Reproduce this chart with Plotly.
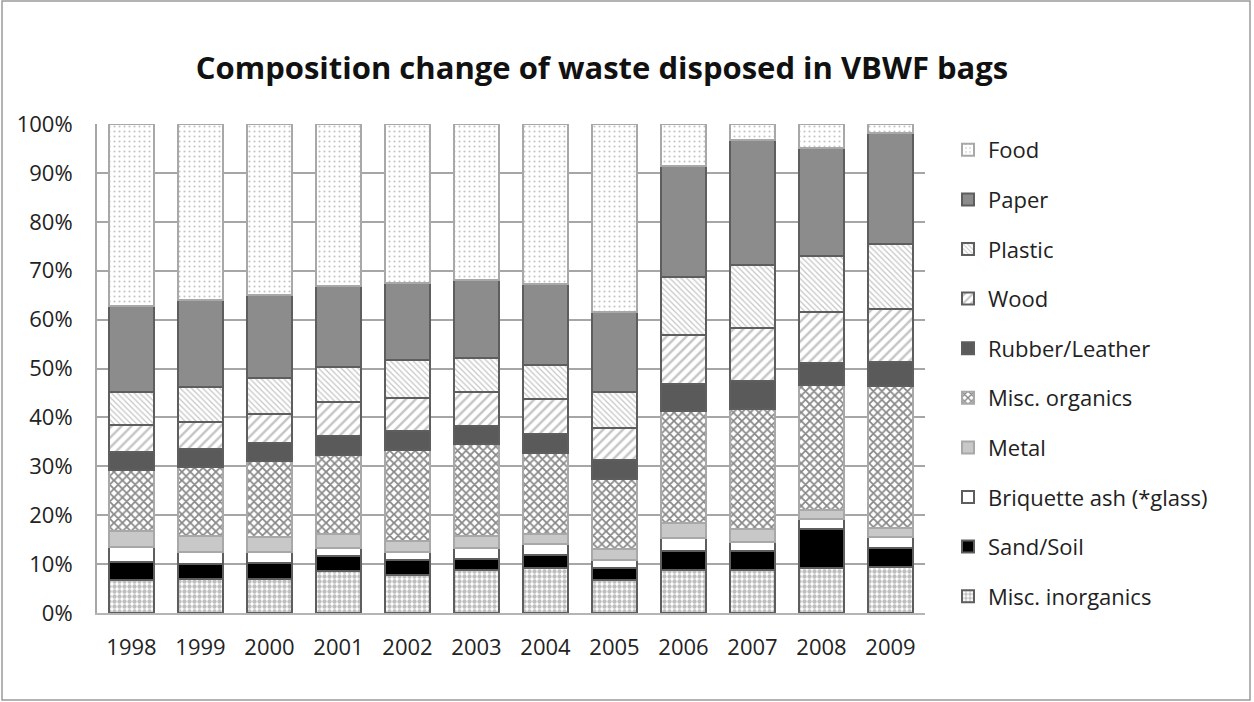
import plotly.graph_objects as go

years = ["1998", "1999", "2000", "2001", "2002", "2003",
         "2004", "2005", "2006", "2007", "2008", "2009"]

# Share of each waste category per year (%), listed bottom to top of each bar
misc_inorganics = [6.8, 7.0, 7.0, 8.5, 7.7, 8.7, 9.2, 6.7, 8.7, 8.7, 9.2, 9.4]
sand_soil       = [3.6, 3.1, 3.3, 3.2, 3.1, 2.4, 2.7, 2.5, 3.9, 3.9, 7.9, 3.9]
briquette_ash   = [3.0, 2.4, 2.2, 1.6, 1.7, 2.2, 2.2, 1.7, 2.7, 1.9, 2.1, 2.3]
metal           = [3.3, 3.3, 3.1, 2.9, 2.2, 2.5, 2.1, 2.1, 3.2, 2.6, 1.8, 1.7]
misc_organics   = [12.5, 14.1, 15.5, 16.2, 18.6, 18.7, 16.5, 14.5, 22.8, 24.7, 25.6, 29.1]
rubber_leather  = [3.7, 3.6, 3.7, 3.8, 3.9, 3.8, 4.0, 3.7, 5.5, 5.6, 4.6, 5.0]
wood            = [5.6, 5.6, 5.9, 6.9, 6.8, 6.8, 7.0, 6.7, 10.0, 10.9, 10.4, 10.7]
plastic         = [6.6, 7.1, 7.3, 7.2, 7.7, 7.1, 7.0, 7.2, 12.0, 12.8, 11.4, 13.3]
paper           = [17.7, 17.9, 17.0, 16.6, 15.8, 15.9, 16.6, 16.4, 22.7, 25.7, 22.0, 22.7]
food            = [37.2, 35.9, 35.0, 33.1, 32.5, 31.9, 32.7, 38.5, 8.5, 3.2, 5.0, 1.9]

tick_vals = [0, 10, 20, 30, 40, 50, 60, 70, 80, 90, 100]
tick_text = [f"{v}%" for v in tick_vals]

FONT = "'Open Sans', Lato, sans-serif"
DARK = "#5e5e5e"
LIGHT = "#a8a8a8"

series = [
    ("Misc. inorganics", misc_inorganics,
     dict(color="white", pattern=dict(shape=".", size=5, solidity=0.6, fgcolor="#7e7e7e", bgcolor="white")), DARK),
    ("Sand/Soil", sand_soil, dict(color="black"), DARK),
    ("Briquette ash (*glass)", briquette_ash, dict(color="white"), DARK),
    ("Metal", metal, dict(color="#c8c8c8"), LIGHT),
    ("Misc. organics", misc_organics,
     dict(color="white", pattern=dict(shape="x", size=6, solidity=0.5, fgcolor="#111111", bgcolor="white")), LIGHT),
    ("Rubber/Leather", rubber_leather, dict(color="#5a5a5a"), DARK),
    ("Wood", wood,
     dict(color="white", pattern=dict(shape="/", size=7, solidity=0.35, fgcolor="#8c8c8c", bgcolor="white")), DARK),
    ("Plastic", plastic,
     dict(color="white", pattern=dict(shape="\\", size=4, solidity=0.3, fgcolor="#8c8c8c", bgcolor="white")), DARK),
    ("Paper", paper, dict(color="#8c8c8c"), DARK),
    ("Food", food,
     dict(color="white", pattern=dict(shape=".", size=5, solidity=0.14, fgcolor="#888888", bgcolor="white")), LIGHT),
]

fig = go.Figure()
n = len(series)
for i, (name, vals, marker, line_color) in enumerate(series):
    marker = dict(marker)
    marker["line"] = dict(color=line_color, width=2)
    # Legend lists the top of the stack first
    fig.add_trace(go.Bar(x=years, y=vals, name=name, marker=marker,
                         legendgroup=name, legendrank=n - i))

W, H = 1254, 702
ml, mr, mt, mb = 97, 329, 124, 89
pw, ph = W - ml - mr, H - mt - mb

fig.update_layout(
    width=W, height=H,
    margin=dict(l=ml, r=mr, t=mt, b=mb),
    barmode="stack",
    bargap=0.36,
    plot_bgcolor="white",
    paper_bgcolor="white",
    font=dict(family=FONT, size=22, color="#222222"),
    title=dict(text="<b>Composition change of waste disposed in VBWF bags</b>",
               x=602 / W, xanchor="center", y=1 - 68 / H, yanchor="middle",
               font=dict(family=FONT, size=31, color="#111111")),
    legend=dict(traceorder="grouped", tracegroupgap=18, maxheight=650,
                x=(948 - ml) / pw, xanchor="left", y=1 - (129 - mt) / ph, yanchor="top",
                font=dict(family=FONT, size=22, color="#222222"),
                itemwidth=30, bgcolor="rgba(0,0,0,0)"),
    xaxis=dict(showgrid=False, showline=True, linecolor="#b5b5b5", linewidth=2,
               ticks="", ticklabelstandoff=14, tickfont=dict(size=22)),
    yaxis=dict(range=[0, 100], tickvals=tick_vals, ticktext=tick_text,
               showgrid=True, gridcolor="#a6a6a6", gridwidth=2,
               zeroline=False, showline=True, linecolor="#a6a6a6", linewidth=2,
               ticks="", ticklabelstandoff=18, tickfont=dict(size=22)),
    shapes=[dict(type="rect", xref="paper", yref="paper",
                 x0=(2 - ml) / pw, x1=(W - 4 - ml) / pw,
                 y0=-(H - 2 - mt - ph) / ph, y1=1 + (mt - 1) / ph,
                 line=dict(color="#9a9a9a", width=1.5), layer="below")],
)

fig.write_html("out.html")
